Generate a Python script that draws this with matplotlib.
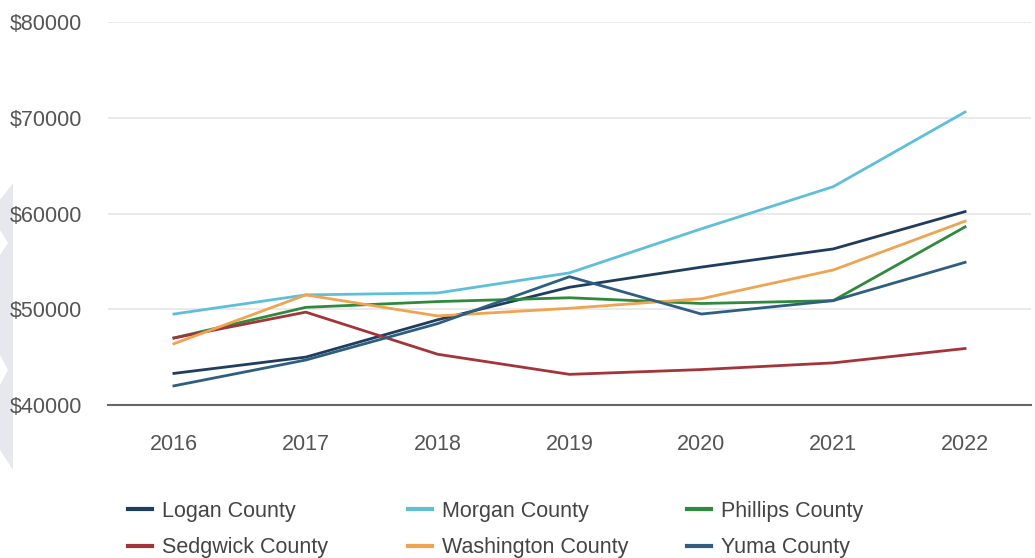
import matplotlib.pyplot as plt
from matplotlib.patches import Polygon

plt.rcParams['font.family'] = ['Liberation Sans', 'DejaVu Sans']

years = ['2016', '2017', '2018', '2019', '2020', '2021', '2022']
counties = ['Logan County', 'Morgan County', 'Phillips County',
            'Sedgwick County', 'Washington County', 'Yuma County']
logan = [43300, 45000, 48900, 52300, 54400, 56300, 60200]
morgan = [49500, 51500, 51700, 53800, 58400, 62800, 70600]
phillips = [47000, 50200, 50800, 51200, 50600, 50900, 58600]
sedgwick = [47000, 49700, 45300, 43200, 43700, 44400, 45900]
washington = [46400, 51500, 49300, 50100, 51100, 54100, 59200]
yuma = [42000, 44700, 48500, 53400, 49500, 50900, 54900]
yticks = [40000, 50000, 60000, 70000, 80000]

series = [logan, morgan, phillips, sedgwick, washington, yuma]
colours = ['#1f3d5e', '#5fbfd9', '#2f8a3c', '#a3343a', '#f0a350', '#2e5f80']

W, H = 1035, 558
fig = plt.figure(figsize=(W / 100, H / 100), dpi=100)

# decorative grey shapes on the left edge, behind everything
deco = Polygon([(0, 1 - 200 / H), (13 / W, 1 - 183 / H), (13 / W, 1 - 470 / H),
                (0, 1 - 450 / H), (0, 1 - 385 / H), (8 / W, 1 - 370 / H),
                (0, 1 - 355 / H), (0, 1 - 255 / H), (8 / W, 1 - 243 / H),
                (0, 1 - 230 / H)],
               closed=True, transform=fig.transFigure, facecolor='#e6e8ee',
               edgecolor='none', zorder=-5)
fig.patches.append(deco)

ax = fig.add_axes([108 / W, 1 - 405 / H, 923 / W, 383 / H])
ax.patch.set_alpha(0)
x = list(range(len(years)))
for vals, name, c in zip(series, counties, colours):
    ax.plot(x, vals, color=c, lw=2, label=name)

ax.set_xlim(-0.5, len(years) - 0.5)
ax.set_ylim(40000, 80000)
ax.set_yticks(yticks)
ax.set_yticklabels(['$' + str(v) for v in yticks])
ax.set_xticks(x)
ax.set_xticklabels(years)
ax.grid(axis='y', color='#e6e6e6', lw=1.2)
ax.set_axisbelow(True)
for s in ['top', 'right', 'left']:
    ax.spines[s].set_visible(False)
ax.spines['bottom'].set_color('#666666')
ax.spines['bottom'].set_linewidth(1.5)
ax.tick_params(length=0, labelsize=15.5, labelcolor='#555555')
ax.tick_params(axis='x', pad=21)
ax.tick_params(axis='y', pad=18.5)

handles, labels = ax.get_legend_handles_labels()
for i, xs in enumerate([128, 408, 687]):
    fig.legend([handles[i], handles[i + 3]], [labels[i], labels[i + 3]],
               loc='upper left', bbox_to_anchor=(xs / W, 1 - 501 / H),
               frameon=False, fontsize=15.5, handlelength=1.1,
               handletextpad=0.5, labelspacing=0.7, borderpad=0,
               borderaxespad=0, labelcolor='#444444')
for leg in fig.legends:
    for ln in leg.get_lines():
        ln.set_linewidth(3)

fig.savefig('out.png', dpi=100, facecolor='white')
